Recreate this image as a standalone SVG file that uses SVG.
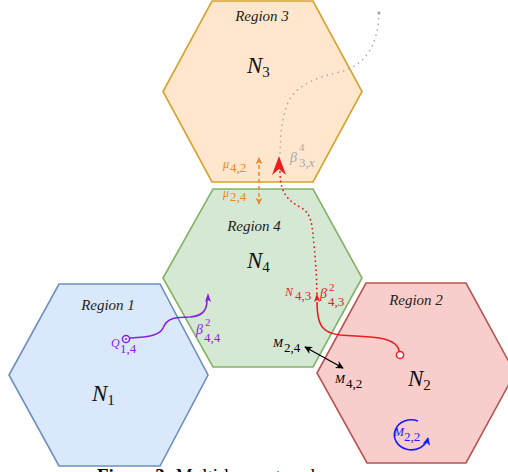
<svg xmlns="http://www.w3.org/2000/svg" width="508" height="472" viewBox="0 0 508 472">
<style>
.hex{stroke-width:1.6}
.reg{font-family:"Liberation Serif",serif;font-style:italic;font-size:15px;fill:#222;text-anchor:middle}
.big{font-family:"Liberation Serif",serif;font-style:italic;font-size:23px;fill:#111}
.bsub{font-style:normal;font-size:15px}
.m{font-family:"Liberation Serif",serif;font-style:italic;font-size:12px}
.b{font-size:14px}
.s{font-style:normal;font-size:13px}
.sp{font-style:normal;font-size:11px}
.cap{font-family:"Liberation Serif",serif;font-size:19px;fill:#000}
</style>
<defs>
<marker id="ab" viewBox="0 0 10 10" refX="9" refY="5" markerWidth="8" markerHeight="8" markerUnits="userSpaceOnUse" orient="auto-start-reverse"><path d="M0,0 L10,5 L0,10 L3,5 z" fill="#000"/></marker>
<marker id="ao" viewBox="0 0 10 10" refX="9" refY="5" markerWidth="7" markerHeight="7" markerUnits="userSpaceOnUse" orient="auto-start-reverse"><path d="M0,0 L10,5 L0,10 L3,5 z" fill="#f28522"/></marker>
<marker id="abl" viewBox="0 0 10 10" refX="9" refY="5" markerWidth="8" markerHeight="8" markerUnits="userSpaceOnUse" orient="auto"><path d="M0,0 L10,5 L0,10 L3,5 z" fill="#1a1aff"/></marker>
</defs>

<g id="n3">
<polygon class="hex" points="212,1 313,1 362,91.5 313,182 212,182 163,91.5" fill="#ffe6cc" stroke="#d6a22a"/>
<text class="reg" x="262" y="21">Region 3</text>
<text class="big" x="247" y="73">N<tspan class="bsub" dy="4">3</tspan></text>
</g>
<g id="n4">
<polygon class="hex" points="213,189 313,189 362,278 313,367 213,367 163,278" fill="#d5e8d4" stroke="#82b366"/>
<text class="reg" x="254" y="231">Region 4</text>
<text class="big" x="247" y="268">N<tspan class="bsub" dy="4">4</tspan></text>
</g>
<g id="n1">
<polygon class="hex" points="59,284 160,284 208,375 160,466 59,466 9,375" fill="#dae8fc" stroke="#6c8ebf"/>
<text class="reg" x="108" y="310">Region 1</text>
<text class="big" x="92" y="401">N<tspan class="bsub" dy="4">1</tspan></text>
</g>
<g id="n2">
<polygon class="hex" points="366,283 466,283 515,373 466,463 367,463 317,373" fill="#f8cecc" stroke="#b85450"/>
<text class="reg" x="416" y="305">Region 2</text>
<text class="big" x="408" y="386">N<tspan class="bsub" dy="4">2</tspan></text>
</g>

<g id="connectors" fill="none">
<path d="M379,13 C378,45 366,65 340,72 C312,78 293,88 287,105 C281,122 280,140 280,158" stroke="#a8a8a8" stroke-width="1.6" stroke-dasharray="0.1 5.5" stroke-linecap="round"/>
<circle cx="379" cy="13" r="1.5" fill="#a0a0a0"/>
<path d="M280,172 C280,190 286,200 300,207 C312,213 312,225 314,245 C316,265 317,285 317,300" stroke="#ee1c1c" stroke-width="1.8" stroke-dasharray="0.1 4.5" stroke-linecap="round"/>
<polygon points="279,156 286,175 279,169 272,175" fill="#ee1c1c"/>
<path d="M317,302 C317,325 322,333 340,335 C365,337 385,336 395,344 C398,347 399,349 399,351" stroke="#ee1c1c" stroke-width="1.6"/>
<polygon points="317,293 320,302 317,300 314,302" fill="#ee1c1c"/>
<circle cx="400" cy="355" r="3.6" fill="#fff" stroke="#ee1c1c" stroke-width="1.5"/>
<path d="M130,338 C150,337 160,335 163,328 C167,318 175,317 190,317 C203,316 207,310 207,300" stroke="#8a1ee8" stroke-width="1.6"/>
<polygon points="208,293 211,302 208,300 205,302" fill="#8a1ee8"/>
<circle cx="126" cy="339" r="3.6" fill="none" stroke="#8a1ee8" stroke-width="1.5"/>
<circle cx="126" cy="339" r="1" fill="#8a1ee8"/>
<line x1="259" y1="204" x2="259" y2="158" stroke="#f28522" stroke-width="1.5" stroke-dasharray="4 3" marker-start="url(#ao)" marker-end="url(#ao)"/>
<line x1="305" y1="347" x2="343" y2="368" stroke="#000" stroke-width="1.4" marker-start="url(#ab)" marker-end="url(#ab)"/>
<path d="M418,421 A17,15 0 1 0 428,438" stroke="#1a1aff" stroke-width="1.6" marker-end="url(#abl)"/>
</g>

<g id="labels">
<text class="m" x="290" y="162" fill="#a8a8a8"><tspan class="b">β</tspan><tspan class="sp" x="299" y="151">4</tspan><tspan class="s" x="299" y="167">3,<tspan font-style="italic">x</tspan></tspan></text>
<text class="m" x="223" y="168" fill="#f28522">μ<tspan class="s" x="230" y="172">4,2</tspan></text>
<text class="m" x="223" y="197" fill="#f28522">μ<tspan class="s" x="230" y="201">2,4</tspan></text>
<text class="m" x="285" y="296" fill="#ee1c1c">N<tspan class="s" x="295" y="300">4,3</tspan></text>
<text class="m" x="320" y="298" fill="#ee1c1c"><tspan class="b">β</tspan><tspan class="sp" x="329" y="291">2</tspan><tspan class="s" x="328" y="306">4,3</tspan></text>
<text class="m" x="111" y="347" fill="#8a1ee8">Q<tspan class="s" x="120" y="353">1,4</tspan></text>
<text class="m" x="196" y="334" fill="#8a1ee8"><tspan class="b">β</tspan><tspan class="sp" x="205" y="326">2</tspan><tspan class="s" x="204" y="342">4,4</tspan></text>
<text class="m" x="273" y="347" fill="#000">M<tspan class="s" x="284" y="352">2,4</tspan></text>
<text class="m" x="335" y="383" fill="#000">M<tspan class="s" x="346" y="388">4,2</tspan></text>
<text class="m" x="394" y="436" fill="#1a1aff">M<tspan class="s" x="404" y="441">2,2</tspan></text>
</g>

<text class="cap" x="97" y="482"><tspan font-weight="bold">Figure 3:</tspan> Multi-hop network</text>
</svg>
